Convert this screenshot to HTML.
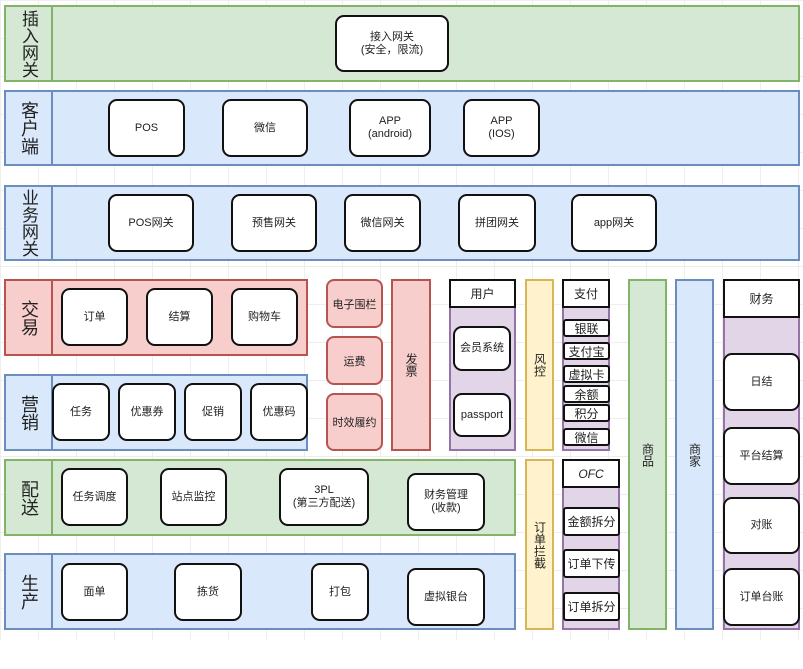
<!DOCTYPE html>
<html><head><meta charset="utf-8"><style>
html,body{margin:0;padding:0}
body{width:803px;height:669px;position:relative;overflow:hidden;background:#fff;
background-image:linear-gradient(#eee 1px,transparent 1px),linear-gradient(90deg,#eee 1px,transparent 1px);background-size:38px 38px;
font-family:"Liberation Sans","Noto Sans CJK SC",sans-serif;color:#222}
.a{position:absolute;box-sizing:border-box;display:flex;align-items:center;justify-content:center;text-align:center}
.g{background:#d5e8d4;border:2px solid #82b366}
.b{background:#dae8fc;border:2px solid #6c8ebf}
.r{background:#f8cecc;border:2px solid #b85450}
.y{background:#fff2cc;border:2px solid #d6b656}
.p{background:#e1d5e7;border:2px solid #9673a6}
.n{background:#fff;border:2px solid #111;border-radius:9px;font-size:11px;line-height:13px}
.h{background:#fff;border:2px solid #111;font-size:12px}
.s{background:#fff;border:2px solid #111;border-radius:3px;font-size:12px}
.lab{font-size:18px;line-height:21px;writing-mode:vertical-rl;letter-spacing:0}
.v{writing-mode:vertical-rl;font-size:12px;line-height:14px}
.rr{border-radius:8px}
</style></head><body>
<!-- row 1 -->
<div class="a g" style="left:4px;top:5px;width:796px;height:77px"></div>
<div class="a g" style="left:4px;top:5px;width:49px;height:77px"><span class="lab" style="font-size:17px;line-height:19px">插入网关</span></div>
<div class="a n" style="left:335px;top:15px;width:114px;height:57px">接入网关<br>(安全，限流)</div>
<!-- row 2 -->
<div class="a b" style="left:4px;top:90px;width:796px;height:76px"></div>
<div class="a b" style="left:4px;top:90px;width:49px;height:76px"><span class="lab">客户端</span></div>
<div class="a n" style="left:108px;top:99px;width:77px;height:58px">POS</div>
<div class="a n" style="left:222px;top:99px;width:86px;height:58px">微信</div>
<div class="a n" style="left:349px;top:99px;width:82px;height:58px">APP<br>(android)</div>
<div class="a n" style="left:463px;top:99px;width:77px;height:58px">APP<br>(IOS)</div>
<!-- row 3 -->
<div class="a b" style="left:4px;top:185px;width:796px;height:76px"></div>
<div class="a b" style="left:4px;top:185px;width:49px;height:76px"><span class="lab" style="font-size:17px;line-height:19px">业务网关</span></div>
<div class="a n" style="left:108px;top:194px;width:86px;height:58px">POS网关</div>
<div class="a n" style="left:231px;top:194px;width:86px;height:58px">预售网关</div>
<div class="a n" style="left:344px;top:194px;width:77px;height:58px">微信网关</div>
<div class="a n" style="left:458px;top:194px;width:78px;height:58px">拼团网关</div>
<div class="a n" style="left:571px;top:194px;width:86px;height:58px">app网关</div>
<!-- 交易 -->
<div class="a r" style="left:4px;top:279px;width:304px;height:77px"></div>
<div class="a r" style="left:4px;top:279px;width:49px;height:77px"><span class="lab">交易</span></div>
<div class="a n" style="left:61px;top:288px;width:67px;height:58px">订单</div>
<div class="a n" style="left:146px;top:288px;width:67px;height:58px">结算</div>
<div class="a n" style="left:231px;top:288px;width:67px;height:58px">购物车</div>
<!-- 营销 -->
<div class="a b" style="left:4px;top:374px;width:304px;height:77px"></div>
<div class="a b" style="left:4px;top:374px;width:49px;height:77px"><span class="lab">营销</span></div>
<div class="a n" style="left:52px;top:383px;width:58px;height:58px">任务</div>
<div class="a n" style="left:118px;top:383px;width:58px;height:58px">优惠券</div>
<div class="a n" style="left:184px;top:383px;width:58px;height:58px">促销</div>
<div class="a n" style="left:250px;top:383px;width:58px;height:58px">优惠码</div>
<!-- small red -->
<div class="a r rr" style="left:326px;top:279px;width:57px;height:49px;font-size:11px">电子围栏</div>
<div class="a r rr" style="left:326px;top:336px;width:57px;height:49px;font-size:11px">运费</div>
<div class="a r rr" style="left:326px;top:393px;width:57px;height:58px;font-size:11px">时效履约</div>
<div class="a r" style="left:391px;top:279px;width:40px;height:172px"><span class="v">发票</span></div>
<!-- 用户 -->
<div class="a p" style="left:449px;top:306px;width:67px;height:145px"></div>
<div class="a h" style="left:449px;top:279px;width:67px;height:29px">用户</div>
<div class="a n" style="left:453px;top:326px;width:58px;height:45px">会员系统</div>
<div class="a n" style="left:453px;top:393px;width:58px;height:44px">passport</div>
<div class="a y" style="left:525px;top:279px;width:29px;height:172px"><span class="v">风控</span></div>
<!-- 支付 -->
<div class="a p" style="left:562px;top:306px;width:48px;height:145px"></div>
<div class="a h" style="left:562px;top:279px;width:48px;height:29px">支付</div>
<div class="a s" style="left:563px;top:319px;width:47px;height:18px">银联</div>
<div class="a s" style="left:563px;top:342px;width:47px;height:18px">支付宝</div>
<div class="a s" style="left:563px;top:365px;width:47px;height:18px">虚拟卡</div>
<div class="a s" style="left:563px;top:385px;width:47px;height:18px">余额</div>
<div class="a s" style="left:563px;top:404px;width:47px;height:18px">积分</div>
<div class="a s" style="left:563px;top:428px;width:47px;height:18px">微信</div>
<!-- 商品 商家 -->
<div class="a g" style="left:628px;top:279px;width:39px;height:351px"><span class="v">商品</span></div>
<div class="a b" style="left:675px;top:279px;width:39px;height:351px"><span class="v">商家</span></div>
<!-- 财务 -->
<div class="a p" style="left:723px;top:315px;width:77px;height:315px"></div>
<div class="a h" style="left:723px;top:279px;width:77px;height:39px">财务</div>
<div class="a n" style="left:723px;top:353px;width:77px;height:58px">日结</div>
<div class="a n" style="left:723px;top:427px;width:77px;height:58px">平台结算</div>
<div class="a n" style="left:723px;top:497px;width:77px;height:57px">对账</div>
<div class="a n" style="left:723px;top:568px;width:77px;height:58px">订单台账</div>
<!-- 配送 -->
<div class="a g" style="left:4px;top:459px;width:512px;height:77px"></div>
<div class="a g" style="left:4px;top:459px;width:49px;height:77px"><span class="lab">配送</span></div>
<div class="a n" style="left:61px;top:468px;width:67px;height:58px">任务调度</div>
<div class="a n" style="left:160px;top:468px;width:67px;height:58px">站点监控</div>
<div class="a n" style="left:279px;top:468px;width:90px;height:58px">3PL<br>(第三方配送)</div>
<div class="a n" style="left:407px;top:473px;width:78px;height:58px">财务管理<br>(收款)</div>
<div class="a y" style="left:525px;top:459px;width:29px;height:171px"><span class="v">订单拦截</span></div>
<!-- OFC -->
<div class="a p" style="left:562px;top:486px;width:58px;height:144px"></div>
<div class="a h" style="left:562px;top:459px;width:58px;height:29px;font-style:italic">OFC</div>
<div class="a s" style="left:563px;top:507px;width:57px;height:29px">金额拆分</div>
<div class="a s" style="left:563px;top:549px;width:57px;height:29px">订单下传</div>
<div class="a s" style="left:563px;top:592px;width:57px;height:29px">订单拆分</div>
<!-- 生产 -->
<div class="a b" style="left:4px;top:553px;width:512px;height:77px"></div>
<div class="a b" style="left:4px;top:553px;width:49px;height:77px"><span class="lab">生产</span></div>
<div class="a n" style="left:61px;top:563px;width:67px;height:58px">面单</div>
<div class="a n" style="left:174px;top:563px;width:68px;height:58px">拣货</div>
<div class="a n" style="left:311px;top:563px;width:58px;height:58px">打包</div>
<div class="a n" style="left:407px;top:568px;width:78px;height:58px">虚拟银台</div>
<div style="position:absolute;left:0;top:640px;width:803px;height:29px;background:#fff"></div>
</body></html>
